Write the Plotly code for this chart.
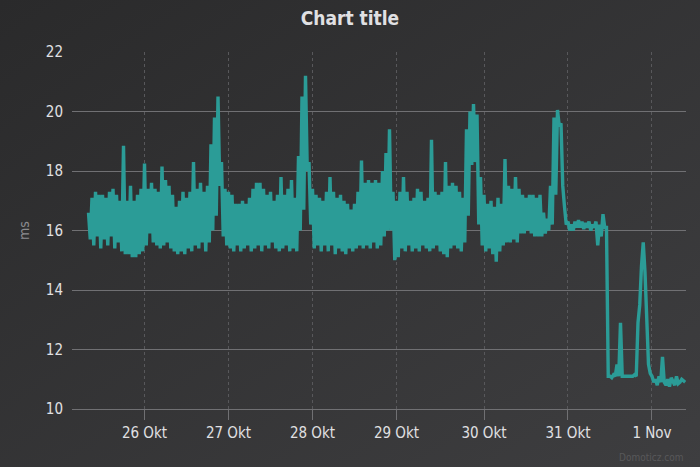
import pandas as pd
import plotly.graph_objects as go

# ---- data (readings in ms, one at hh:00 and one at hh:30 for each hour, UTC) ----
start_time = "2017-10-25 06:00"

ms_00 = [16.6, 17.1, 17.3, 17.2, 17.2, 17.1, 17.3, 17.4, 17.2, 17.0,
         18.85, 17.0, 17.5, 17.0, 17.2, 17.4, 18.25, 17.4, 17.6, 17.4,
         17.3, 18.15, 17.7, 17.5, 17.2, 16.8, 17.0, 17.3, 17.1, 17.3,
         18.3, 17.4, 17.6, 17.3, 17.5, 18.9, 19.8, 20.5, 18.3, 17.4,
         17.3, 17.2, 16.9, 16.9, 17.0, 16.9, 17.1, 17.4, 17.6, 17.6,
         17.4, 17.2, 17.3, 17.0, 17.2, 17.8, 17.2, 17.4, 17.7, 17.1,
         18.5, 20.5, 21.2, 18.3, 17.4, 17.2, 17.1, 17.0, 17.3, 17.8,
         17.3, 17.1, 17.2, 17.0, 16.9, 16.7, 16.9, 17.3, 18.35, 17.6,
         17.7, 17.6, 17.7, 17.6, 18.0, 18.6, 19.4, 17.3, 17.0, 17.3,
         17.8, 17.3, 17.0, 17.1, 17.4, 17.3, 17.0, 17.1, 19.05, 17.3,
         17.2, 17.3, 18.3, 17.5, 17.6, 17.5, 17.3, 17.1, 19.4, 20.0,
         20.25, 19.9, 17.8, 17.2, 16.9, 17.0, 16.8, 17.1, 16.9, 18.4,
         17.5, 17.4, 17.8, 17.4, 17.2, 17.1, 17.2, 17.2, 17.1, 17.2,
         16.6, 16.4, 17.5, 19.8, 20.05, 19.6, 16.8, 16.3, 16.2, 16.3,
         16.35, 16.3, 16.25, 16.3, 16.2, 16.3, 16.2, 16.55, 16.1, 11.1,
         11.15, 11.5, 12.9, 11.1, 11.1, 11.1, 11.15, 12.9, 14.8, 14.6,
         11.5, 11.1, 11.0, 11.1, 11.75, 10.8, 10.75, 10.9, 11.1, 10.9,
         10.95]

ms_30 = [15.7, 15.5, 15.8, 15.4, 15.7, 15.5, 15.8, 15.4, 15.6, 15.3,
         15.2, 15.2, 15.1, 15.1, 15.2, 15.3, 15.5, 15.9, 15.6, 15.5,
         15.4, 15.5, 15.6, 15.4, 15.3, 15.2, 15.3, 15.2, 15.4, 15.3,
         15.5, 15.4, 15.6, 15.3, 15.6, 16.0, 16.5, 17.5, 15.8, 15.5,
         15.4, 15.3, 15.5, 15.3, 15.4, 15.5, 15.3, 15.4, 15.5, 15.3,
         15.5, 15.4, 15.6, 15.4, 15.3, 15.4, 15.5, 15.3, 15.4, 15.3,
         16.0, 16.7, 18.0, 16.2, 15.4, 15.5, 15.3, 15.5, 15.3, 15.5,
         15.2, 15.4, 15.3, 15.2, 15.4, 15.3, 15.4, 15.5, 15.4, 15.5,
         15.4, 15.6, 15.4, 15.5, 15.8, 16.0, 16.0, 15.0, 15.1, 15.4,
         15.3, 15.5, 15.3, 15.4, 15.3, 15.5, 15.4, 15.3, 15.4, 15.5,
         15.3, 15.2, 15.1, 15.4, 15.5, 15.4, 15.3, 15.6, 16.5, 18.2,
         18.3, 16.2, 15.5, 15.3, 15.4, 15.2, 14.95, 15.3, 15.5, 15.6,
         15.6, 15.7, 15.6, 15.9, 15.9, 16.0, 15.9, 15.8, 15.8, 15.8,
         15.9, 16.0, 16.2, 17.2, 19.5, 17.5, 16.2, 16.0, 16.0, 16.1,
         16.1, 16.05, 16.1, 16.0, 16.1, 15.5, 15.8, 16.1, 11.1, 11.05,
         11.1, 11.1, 11.1, 11.1, 11.1, 11.1, 11.1, 13.5, 15.6, 12.7,
         11.2, 10.9, 10.8, 10.9, 10.9, 11.0, 11.05, 10.8, 10.85, 11.0,
         10.9]

# local midnights (CEST/CET) expressed in UTC
tick_times = ["2017-10-25 22:00", "2017-10-26 22:00", "2017-10-27 22:00",
              "2017-10-28 22:00", "2017-10-29 23:00", "2017-10-30 23:00",
              "2017-10-31 23:00"]
tick_labels = ["26 Okt", "27 Okt", "28 Okt", "29 Okt", "30 Okt", "31 Okt", "1 Nov"]
y_ticks = [10, 12, 14, 16, 18, 20, 22]

# ---- build series ----
hours = pd.date_range(start_time, periods=len(ms_00), freq="h")
t00 = list(hours)
t30 = list(hours + pd.Timedelta(minutes=30))
xs, ys = [], []
for a, b, va, vb in zip(t00, t30, ms_00, ms_30):
    xs += [a, b]
    ys += [va, vb]

FONT = "DejaVu Sans Condensed, DejaVu Sans, sans-serif"
GRID = "#707073"

fig = go.Figure()
fig.add_trace(go.Scatter(x=xs, y=ys, mode="lines",
                         line=dict(color="#2b9c97", width=3.4),
                         showlegend=False, hoverinfo="skip"))

# background gradient (Highcharts dark theme style)
svg = ("data:image/svg+xml;utf8,<svg xmlns='http://www.w3.org/2000/svg' width='700' height='467'>"
       "<defs><linearGradient id='g' x1='0' y1='0' x2='1' y2='1'>"
       "<stop offset='0' stop-color='%232a2a2b'/><stop offset='1' stop-color='%233e3e40'/>"
       "</linearGradient></defs><rect width='700' height='467' fill='url(%23g)'/></svg>")

L, R, T, B = 72, 14, 52, 58
W, H = 700, 467
pw, ph = W - L - R, H - T - B

fig.add_layout_image(dict(source=svg, xref="paper", yref="paper",
                          x=-L / pw, y=1 + T / ph, sizex=W / pw, sizey=H / ph,
                          xanchor="left", yanchor="top", sizing="stretch",
                          layer="below"))

fig.update_layout(
    width=W, height=H,
    margin=dict(l=L, r=R, t=T, b=B),
    paper_bgcolor="#333335",
    plot_bgcolor="rgba(0,0,0,0)",
    font=dict(family=FONT, color="#E0E0E3"),
    title=dict(text="<b>Chart title</b>", x=0.5, xanchor="center",
               y=(H - 18) / H, yanchor="middle",
               font=dict(size=19, color="#E0E0E3", family=FONT)),
    xaxis=dict(type="date",
               range=["2017-10-25 01:17", "2017-11-01 08:43"],
               tickmode="array", tickvals=tick_times, ticktext=tick_labels,
               showgrid=True, gridcolor="#58585b", griddash="dot", gridwidth=1,
               showline=True, linecolor=GRID, linewidth=1,
               ticks="outside", ticklen=10, tickcolor=GRID,
               tickfont=dict(size=15, color="#E0E0E3"),
               zeroline=False, fixedrange=True),
    yaxis=dict(range=[10, 22], tickvals=y_ticks,
               showgrid=True, gridcolor=GRID, gridwidth=1,
               showline=False, zeroline=False, ticks="",
               ticklabelstandoff=8,
               tickfont=dict(size=15, color="#E0E0E3"),
               title=dict(text="ms", standoff=12,
                          font=dict(size=14, color="#8c8c8f")),
               fixedrange=True),
    annotations=[dict(text="Domoticz.com", xref="paper", yref="paper",
                      x=(W - 15 - L) / pw, y=-(457 - (H - B)) / ph,
                      xanchor="right", yanchor="middle", showarrow=False,
                      font=dict(size=10, color="#58585a", family=FONT))],
)

fig.write_html("out.html")
